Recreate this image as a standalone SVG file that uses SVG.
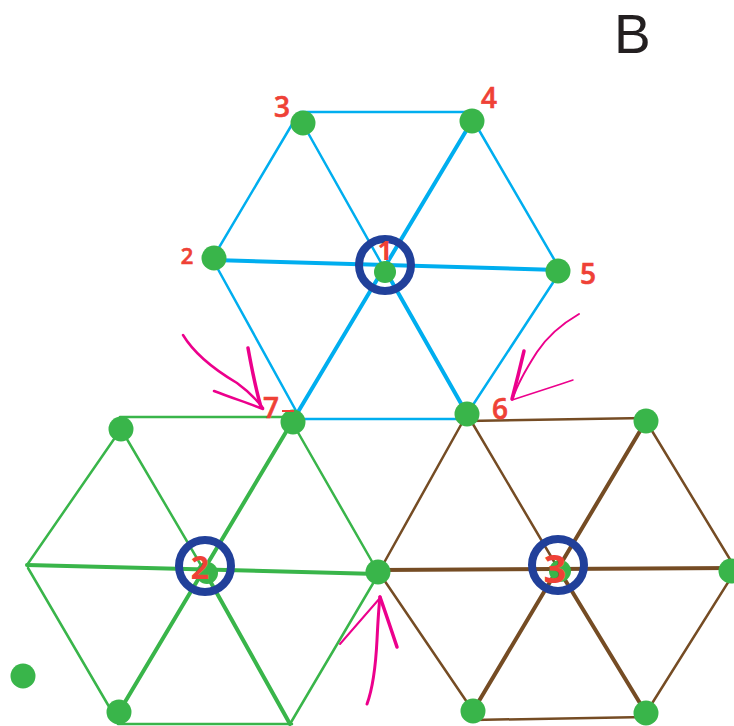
<svg xmlns="http://www.w3.org/2000/svg" width="734" height="726" viewBox="0 0 734 726">
<style>
.b{stroke:#00aeef;stroke-width:2.5;fill:none;stroke-linecap:round}
.g{stroke:#39b54a;stroke-width:2.5;fill:none;stroke-linecap:round}
.r{stroke:#754c24;stroke-width:2.5;fill:none;stroke-linecap:round}
.t{stroke-width:4}
.dot{fill:#39b54a}
.ring{fill:none;stroke:#21409a;stroke-width:8}
.lbl{fill:#ef4136;font-family:"Open Sans","DejaVu Sans",sans-serif;font-weight:600;stroke:#ef4136;stroke-width:0.6}
.num{fill:#ef4136;font-family:"Open Sans","DejaVu Sans",sans-serif;font-weight:700}
.arr{stroke:#ec008c;fill:none;stroke-linecap:round;stroke-linejoin:round}
</style>
<rect width="734" height="726" fill="#ffffff"/>
<text x="614" y="53" font-family="'Liberation Sans',Arial,sans-serif" font-size="55" fill="#231f20">B</text>
<g id="connectors">
<!-- blue hexagon -->
<line class="b" x1="300" y1="112" x2="466" y2="112"/>
<line class="b" x1="297" y1="116" x2="214" y2="256"/>
<line class="b" x1="214" y1="262" x2="300" y2="418"/>
<line class="b" x1="300" y1="419" x2="462" y2="419"/>
<line class="b" x1="467" y1="414" x2="558" y2="275"/>
<line class="b" x1="476" y1="125" x2="558" y2="266"/>
<line class="b" x1="303" y1="124" x2="384" y2="268"/>
<line class="b t" x1="384" y1="268" x2="467" y2="414"/>
<line class="b t" x1="472" y1="121" x2="384" y2="268"/>
<line class="b t" x1="384" y1="268" x2="292" y2="422"/>
<line class="b t" x1="214" y1="260" x2="558" y2="270"/>
<!-- green hexagon -->
<line class="g" x1="120" y1="417" x2="292" y2="417"/>
<line class="g" x1="121" y1="429" x2="27" y2="565"/>
<line class="g" x1="28" y1="568" x2="118" y2="722"/>
<line class="g" x1="118" y1="724" x2="292" y2="724"/>
<line class="g" x1="378" y1="575" x2="290" y2="724"/>
<line class="g" x1="292" y1="422" x2="378" y2="572"/>
<line class="g" x1="121" y1="429" x2="205" y2="572"/>
<line class="g t" x1="205" y1="572" x2="290" y2="724"/>
<line class="g t" x1="292" y1="422" x2="119" y2="712"/>
<line class="g t" x1="27" y1="565" x2="378" y2="574"/>
<!-- brown hexagon -->
<line class="r" x1="467" y1="421" x2="646" y2="418"/>
<line class="r" x1="467" y1="414" x2="380" y2="570"/>
<line class="r" x1="380" y1="574" x2="473" y2="711"/>
<line class="r" x1="473" y1="720" x2="646" y2="717"/>
<line class="r" x1="646" y1="713" x2="734" y2="573"/>
<line class="r" x1="646" y1="421" x2="734" y2="566"/>
<line class="r" x1="467" y1="414" x2="559" y2="570"/>
<line class="r t" x1="559" y1="570" x2="646" y2="713"/>
<line class="r t" x1="646" y1="421" x2="473" y2="711"/>
<line class="r t" x1="380" y1="570" x2="734" y2="568"/>
</g>
<g id="arrows">
<path class="arr" stroke-width="2.5" d="M183,335 C195,355 215,370 237,383 C248,391 256,399 263,408"/>
<path class="arr" stroke-width="3.5" d="M248,348 C252,370 256,390 261,407"/>
<path class="arr" stroke-width="2.5" d="M214,391 C232,398 248,403 263,409"/>
<path class="arr" stroke-width="2" d="M579,314 C560,325 545,340 537,352 C528,366 518,382 513,398"/>
<path class="arr" stroke-width="3.5" d="M524,351 C520,368 516,384 512,399"/>
<path class="arr" stroke-width="1.5" d="M573,380 C552,387 530,394 512,400"/>
<path class="arr" stroke-width="3" d="M367,704 C374,685 376,660 377,640 C378,620 379,605 380,597"/>
<path class="arr" stroke-width="2" d="M340,644 C354,628 368,612 380,598"/>
<path class="arr" stroke-width="3.5" d="M380,597 C386,614 392,632 397,647"/>
</g>
<g id="hex1">
<circle class="ring" cx="385" cy="265" r="26"/>
<circle class="dot" cx="385" cy="272" r="11"/>
<text class="num" x="385" y="260" font-size="26" text-anchor="middle">1</text>
</g>
<g id="hex2">
<circle class="ring" cx="205" cy="566" r="26"/>
<circle class="dot" cx="207" cy="573" r="11"/>
<text class="num" x="200" y="579" font-size="32" text-anchor="middle">2</text>
</g>
<g id="hex3">
<circle class="ring" cx="558" cy="565" r="26"/>
<circle class="dot" cx="560" cy="571" r="11"/>
<text class="num" x="555" y="583" font-size="40" text-anchor="middle" font-weight="600">3</text>
</g>
<g id="n3"><circle class="dot" cx="303" cy="123" r="12.5"/><text class="lbl" x="282" y="117" font-size="28" text-anchor="middle">3</text></g>
<g id="n4"><circle class="dot" cx="472" cy="121" r="12.5"/><text class="lbl" x="489" y="108" font-size="28" text-anchor="middle">4</text></g>
<g id="n2"><circle class="dot" cx="214" cy="258" r="12.5"/><text class="lbl" x="187" y="264" font-size="22" text-anchor="middle">2</text></g>
<g id="n5"><circle class="dot" cx="558" cy="271" r="12.5"/><text class="lbl" x="588" y="284" font-size="28" text-anchor="middle">5</text></g>
<g id="n6"><circle class="dot" cx="467" cy="414" r="12.5"/><text class="lbl" x="500" y="419" font-size="28" text-anchor="middle">6</text></g>
<g id="n7"><circle class="dot" cx="293" cy="422" r="12.5"/><text class="lbl" x="271" y="418" font-size="28" text-anchor="middle">7</text><line x1="282" y1="411" x2="294" y2="411" stroke="#ef4136" stroke-width="2"/></g>
<g id="g1"><circle class="dot" cx="121" cy="429" r="12.5"/></g>
<g id="g2"><circle class="dot" cx="378" cy="572" r="12.5"/></g>
<g id="g3"><circle class="dot" cx="119" cy="712" r="12.5"/></g>
<g id="g4"><circle class="dot" cx="23" cy="676" r="12.5"/></g>
<g id="b1"><circle class="dot" cx="646" cy="421" r="12.5"/></g>
<g id="b2"><circle class="dot" cx="731" cy="571" r="12.5"/></g>
<g id="b3"><circle class="dot" cx="473" cy="711" r="12.5"/></g>
<g id="b4"><circle class="dot" cx="646" cy="713" r="12.5"/></g>
</svg>
